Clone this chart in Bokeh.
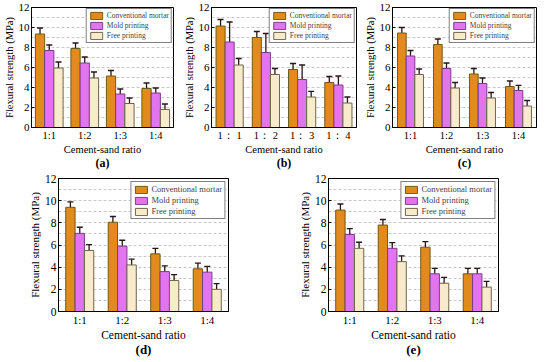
from bokeh.plotting import figure
from bokeh.layouts import column, row
from bokeh.models import (ColumnDataSource, Range1d, FactorRange, Whisker, TeeHead,
                          SingleIntervalTicker, CategoricalAxis, Legend, FixedTicker)
from bokeh.transform import dodge
from bokeh.embed import file_html
from bokeh.resources import INLINE

ratios = ["1:1", "1:2", "1:3", "1:4"]
ratios_b = ["1： 1", "1： 2", "1： 3", "1： 4"]
series_names = ["Conventional mortar", "Mold printing", "Free printing"]

# (a)
a_cm = [9.35, 7.9, 5.15, 3.9]
a_cm_err = [0.6, 0.55, 0.55, 0.55]
a_mp = [7.7, 6.45, 3.35, 3.45]
a_mp_err = [0.55, 0.6, 0.5, 0.5]
a_fp = [5.95, 4.95, 2.4, 1.8]
a_fp_err = [0.6, 0.6, 0.55, 0.55]
# (b)
b_cm = [10.15, 9.0, 5.8, 4.5]
b_cm_err = [0.65, 0.6, 0.6, 0.6]
b_mp = [8.55, 7.5, 4.8, 4.25]
b_mp_err = [2.0, 1.9, 1.45, 0.9]
b_fp = [6.25, 5.3, 3.05, 2.45]
b_fp_err = [0.65, 0.6, 0.57, 0.6]
# (c)
c_cm = [9.45, 8.3, 5.35, 4.1]
c_cm_err = [0.55, 0.55, 0.55, 0.55]
c_mp = [7.15, 5.9, 4.4, 3.7]
c_mp_err = [0.55, 0.55, 0.55, 0.52]
c_fp = [5.3, 3.95, 2.95, 2.15]
c_fp_err = [0.55, 0.55, 0.55, 0.55]
# (d)
d_cm = [9.4, 8.05, 5.2, 3.85]
d_cm_err = [0.5, 0.52, 0.5, 0.52]
d_mp = [7.05, 5.9, 3.6, 3.55]
d_mp_err = [0.55, 0.53, 0.52, 0.52]
d_fp = [5.5, 4.2, 2.8, 2.0]
d_fp_err = [0.53, 0.52, 0.52, 0.52]
# (e)
e_cm = [9.15, 7.8, 5.8, 3.4]
e_cm_err = [0.55, 0.5, 0.5, 0.5]
e_mp = [6.95, 5.7, 3.4, 3.4]
e_mp_err = [0.53, 0.52, 0.5, 0.5]
e_fp = [5.7, 4.5, 2.55, 2.2]
e_fp_err = [0.55, 0.52, 0.52, 0.52]

FILLS = ["#E38A1E", "#E374F0", "#F8EBCB"]
LINES = ["#6E5A12", "#7A3C8A", "#6F6448"]
SERIF = "Liberation Serif"


def make_panel(cats, cm, cm_e, mp, mp_e, fp, fp_e, caption, fw, fh,
               borders, bar_w, label_px, xlabel_px, ytick_px, xtick_px, leg_px, cap_px, leg_margin):
    src = ColumnDataSource(dict(cat=cats,
                                cm=cm, cm_lo=[v - e for v, e in zip(cm, cm_e)], cm_hi=[v + e for v, e in zip(cm, cm_e)],
                                mp=mp, mp_lo=[v - e for v, e in zip(mp, mp_e)], mp_hi=[v + e for v, e in zip(mp, mp_e)],
                                fp=fp, fp_lo=[v - e for v, e in zip(fp, fp_e)], fp_hi=[v + e for v, e in zip(fp, fp_e)]))
    p = figure(x_range=FactorRange(*cats), y_range=Range1d(0, 12),
               frame_width=fw, frame_height=fh,
               output_backend="svg", toolbar_location=None,
               min_border_left=borders[0], min_border_right=borders[1],
               min_border_top=borders[2], min_border_bottom=borders[3])
    p.outline_line_color = "black"
    p.outline_line_width = 1
    p.background_fill_color = "white"
    p.xgrid.visible = False
    p.ygrid.ticker = SingleIntervalTicker(interval=1)
    p.ygrid.grid_line_color = "#c8c8c8"
    p.ygrid.grid_line_dash = "3 2"
    p.yaxis.ticker = SingleIntervalTicker(interval=2, num_minor_ticks=2)

    offs = [-bar_w, 0.0, bar_w]
    keys = ["cm", "mp", "fp"]
    items = []
    for k, off, fc, lc, name in zip(keys, offs, FILLS, LINES, series_names):
        r = p.vbar(x=dodge("cat", off, range=p.x_range), top=k, width=bar_w, bottom=0,
                   source=src, fill_color=fc, line_color=lc, line_width=1)
        items.append((name, [r]))
    for k, off in zip(keys, offs):
        w = Whisker(base=dodge("cat", off, range=p.x_range), upper=k + "_hi", lower=k + "_lo",
                    source=src, line_color="#2a1414", line_width=1.3,
                    upper_head=TeeHead(size=6, line_color="#2a1414", line_width=1.3),
                    lower_head=TeeHead(size=6, line_color="#2a1414", line_width=1.3))
        p.add_layout(w)

    leg = Legend(items=items, location="top_right", orientation="vertical")
    leg.label_text_font = SERIF
    leg.label_text_font_size = leg_px
    leg.glyph_width = 15
    leg.glyph_height = 9
    leg.label_height = 9
    leg.label_standoff = 3
    leg.spacing = 1
    leg.padding = 2
    leg.margin = leg_margin
    leg.border_line_color = "black"
    leg.border_line_width = 1.5
    leg.background_fill_alpha = 1
    p.add_layout(leg)

    for ax in (p.xaxis[0], p.yaxis[0]):
        ax.axis_line_color = "black"
        ax.major_tick_in = 3
        ax.major_tick_out = 0
        ax.minor_tick_in = 0
        ax.minor_tick_out = 0
        ax.major_label_text_font = SERIF
        ax.major_label_text_color = "black"
        ax.axis_label_text_font = SERIF
        ax.axis_label_text_font_style = "normal"
        ax.axis_label_text_color = "black"
        ax.major_label_standoff = 2
        ax.axis_label_standoff = 1
    p.yaxis.major_label_text_font_size = ytick_px
    p.xaxis.major_label_text_font_size = xtick_px
    p.yaxis.axis_label = "Flexural strength (MPa)"
    p.yaxis.axis_label_text_font_size = label_px
    p.xaxis.axis_label = "Cement-sand ratio"
    p.xaxis.axis_label_text_font_size = xlabel_px
    p.xaxis.axis_label_standoff = 0
    p.xaxis.major_tick_in = 0

    cap = CategoricalAxis(axis_label=caption, axis_line_color=None,
                          ticker=FixedTicker(ticks=[]),
                          major_tick_in=0, major_tick_out=0,
                          major_label_standoff=0,
                          axis_label_standoff=-2, axis_label_text_font=SERIF,
                          axis_label_text_font_size=cap_px, axis_label_text_font_style="bold",
                          axis_label_text_color="black")
    p.add_layout(cap, "below")
    return p


pa = make_panel(ratios, a_cm, a_cm_err, a_mp, a_mp_err, a_fp, a_fp_err, "(a)",
                142, 120, (29, 7, 7, 0), 0.26, "10.5px", "10.5px", "11px", "10.5px", "7.5px", "12px", 1)
pb = make_panel(ratios_b, b_cm, b_cm_err, b_mp, b_mp_err, b_fp, b_fp_err, "(b)",
                145, 120, (29, 5, 7, 0), 0.25, "10.5px", "10.5px", "11px", "10.5px", "7.5px", "12px", 1)
pc = make_panel(ratios, c_cm, c_cm_err, c_mp, c_mp_err, c_fp, c_fp_err, "(c)",
                144, 120, (29, 2, 7, 0), 0.24, "10.5px", "10.5px", "11px", "10.5px", "7.5px", "12px", 1)
pd = make_panel(ratios, d_cm, d_cm_err, d_mp, d_mp_err, d_fp, d_fp_err, "(d)",
                170, 133, (58, 40, 6, 0), 0.22, "11px", "11.5px", "11.5px", "11px", "8.5px", "13px", 3)
pe = make_panel(ratios, e_cm, e_cm_err, e_mp, e_mp_err, e_fp, e_fp_err, "(e)",
                170, 133, (60, 34, 6, 0), 0.22, "11px", "11.5px", "11.5px", "11px", "8.5px", "13px", 3)

layout = column(row(pa, pb, pc, spacing=0), row(pd, pe, spacing=0), spacing=0)

open("out.html", "w").write(file_html(layout, INLINE))
